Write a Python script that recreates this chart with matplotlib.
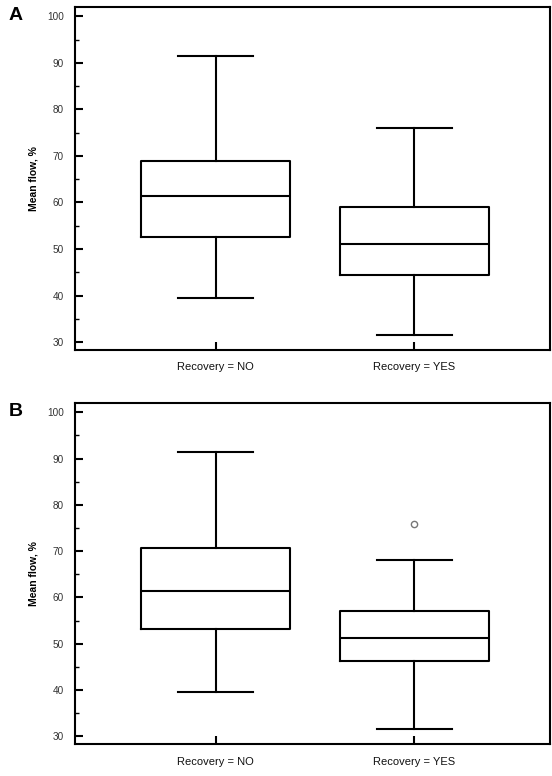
import matplotlib.pyplot as plt
from matplotlib.ticker import MultipleLocator

plt.rcParams['font.family'] = ['Liberation Sans', 'DejaVu Sans']

groups = ['Recovery = NO', 'Recovery = YES']

# panel A: box summaries
a_whislo = [39.4, 31.6]
a_q1 = [52.5, 44.5]
a_med = [61.3, 51.0]
a_q3 = [68.8, 59.1]
a_whishi = [91.5, 75.9]
a_fliers = [[], []]

# panel B
b_whislo = [39.5, 31.6]
b_q1 = [53.1, 46.2]
b_med = [61.4, 51.3]
b_q3 = [70.6, 57.0]
b_whishi = [91.5, 68.1]
b_fliers = [[], [75.8]]


def make_stats(whislo, q1, med, q3, whishi, fliers):
    stats = []
    for i in range(len(groups)):
        stats.append({'whislo': whislo[i], 'q1': q1[i], 'med': med[i],
                      'q3': q3[i], 'whishi': whishi[i], 'fliers': fliers[i],
                      'label': groups[i]})
    return stats


def draw_panel(ax, stats, letter):
    line = dict(color='black', linewidth=1.5)
    ax.bxp(stats, positions=[1, 2], widths=0.75, showfliers=True,
           boxprops=line, whiskerprops=line, capprops=line, medianprops=line,
           flierprops=dict(marker='o', markersize=4.5, markerfacecolor='none',
                           markeredgecolor='#777777', markeredgewidth=1.0))
    ax.set_xlim(0.292, 2.683)
    ax.set_ylim(28.3, 102.0)
    ax.yaxis.set_major_locator(MultipleLocator(10))
    ax.yaxis.set_minor_locator(MultipleLocator(5))
    ax.tick_params(axis='y', which='major', direction='in', length=6,
                   width=1.5, pad=8, labelsize=7.2, labelcolor='#333333')
    ax.tick_params(axis='y', which='minor', direction='in', length=3, width=1.0)
    ax.tick_params(axis='x', which='major', direction='in', length=6,
                   width=1.5, pad=9, labelsize=8, labelcolor='#111111')
    for s in ax.spines.values():
        s.set_linewidth(1.5)
    ax.set_ylabel('Mean flow, %', fontsize=7.5, fontweight='bold', labelpad=6)
    ax.text(-0.125, 1.0, letter, transform=ax.transAxes, fontsize=14,
            fontweight='bold', ha='center', va='top')


fig = plt.figure(figsize=(5.52, 7.76), dpi=100)
ax_a = fig.add_axes([0.1359, 0.549, 0.8605, 0.442])
ax_b = fig.add_axes([0.1359, 0.0412, 0.8605, 0.4394])

draw_panel(ax_a, make_stats(a_whislo, a_q1, a_med, a_q3, a_whishi, a_fliers), 'A')
draw_panel(ax_b, make_stats(b_whislo, b_q1, b_med, b_q3, b_whishi, b_fliers), 'B')

fig.savefig('out.png', dpi=100)
